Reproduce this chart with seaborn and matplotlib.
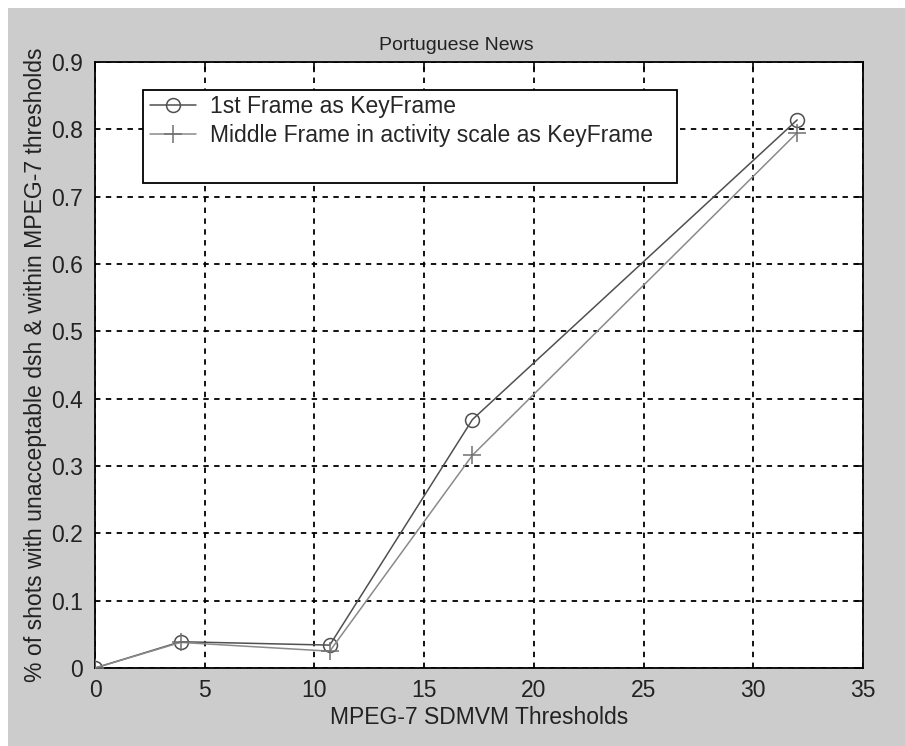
import matplotlib
matplotlib.use("Agg")
import matplotlib.pyplot as plt
import seaborn as sns
import pandas as pd
from matplotlib.patches import Rectangle

thresholds = [0, 3.9, 10.7, 17.2, 32.0]
first_frame = [0.0, 0.039, 0.034, 0.369, 0.814]
middle_frame = [0.0, 0.038, 0.025, 0.316, 0.795]
series_names = ["1st Frame as KeyFrame", "Middle Frame in activity scale as KeyFrame"]
x_ticks = [0, 5, 10, 15, 20, 25, 30, 35]
y_ticks = [0, 0.1, 0.2, 0.3, 0.4, 0.5, 0.6, 0.7, 0.8, 0.9]
y_tick_labels = ["0", "0.1", "0.2", "0.3", "0.4", "0.5", "0.6", "0.7", "0.8", "0.9"]

sns.set_theme(style="white")
plt.rcParams['font.family'] = ['Liberation Sans', 'DejaVu Sans']

W, H = 905, 746
fig = plt.figure(figsize=(W / 100, H / 100), dpi=100)
fig.patch.set_facecolor("#cccccc")
fig.patches.append(Rectangle((0, 0), 1, 1, transform=fig.transFigure,
                             facecolor="#cccccc", edgecolor="none", zorder=-2))
# white border on top and left
fig.patches.append(Rectangle((0, 1 - 8 / H), 1, 8 / H, transform=fig.transFigure,
                             facecolor="white", edgecolor="none", zorder=-1))
fig.patches.append(Rectangle((0, 0), 8 / W, 1, transform=fig.transFigure,
                             facecolor="white", edgecolor="none", zorder=-1))

ax = fig.add_axes([95 / W, (H - 668) / H, (863 - 95) / W, (668 - 62) / H])
ax.set_facecolor("white")

df1 = pd.DataFrame({"x": thresholds, "y": first_frame})
df2 = pd.DataFrame({"x": thresholds, "y": middle_frame})

sns.lineplot(data=df1, x="x", y="y", ax=ax, color="#505050", linewidth=1.1,
             marker="o", markersize=10, markerfacecolor="none",
             markeredgecolor="#505050", markeredgewidth=1.1, label=series_names[0], zorder=5)
sns.lineplot(data=df2, x="x", y="y", ax=ax, color="#8a8a8a", linewidth=1.1,
             marker="+", markersize=13, markeredgecolor="#707070",
             markeredgewidth=1.1, label=series_names[1], zorder=5)

ax.set_xlim(0, 35)
ax.set_ylim(0, 0.9)
ax.set_xticks(x_ticks)
ax.set_xticklabels([str(t) for t in x_ticks])
ax.set_yticks(y_ticks)
ax.set_yticklabels(y_tick_labels)
ax.grid(True, color="black", linestyle=(0, (3, 3)), linewidth=1.3)
ax.tick_params(direction="in", length=6, width=1.2, colors="black",
               labelsize=16.5, top=True, right=True)
ax.tick_params(axis="y", pad=8.5)
ax.tick_params(axis="x", pad=8)
for lab in ax.get_xticklabels() + ax.get_yticklabels():
    lab.set_color("#222222")
for s in ax.spines.values():
    s.set_visible(True)
    s.set_color("black")
    s.set_linewidth(1.3)

ax.set_title("Portuguese News", fontsize=14, color="#222222", x=0.47, pad=9)
ax.set_xlabel("MPEG-7 SDMVM Thresholds", fontsize=16.5, color="#222222", labelpad=3)
ax.set_ylabel("% of shots with unacceptable dsh & within MPEG-7 thresholds",
              fontsize=16.6, color="#222222", labelpad=3)

# legend: frame drawn as rectangle in axes coords
leg = ax.legend(loc="upper left", bbox_to_anchor=((141 - 95) / 768, 1 - (86 - 62) / 606),
                frameon=False, fontsize=16.5, handlelength=2.0, handletextpad=0.6,
                borderaxespad=0, labelspacing=0.25)
x0, x1 = (143 - 95) / 768, (677 - 95) / 768
y0, y1 = 1 - (183 - 62) / 606, 1 - (90 - 62) / 606
ax.add_patch(Rectangle((x0, y0), x1 - x0, y1 - y0, transform=ax.transAxes,
                       facecolor="white", edgecolor="black", linewidth=1.3, zorder=6))
leg.set_zorder(7)

fig.savefig("out.png", dpi=100, facecolor=fig.get_facecolor())
